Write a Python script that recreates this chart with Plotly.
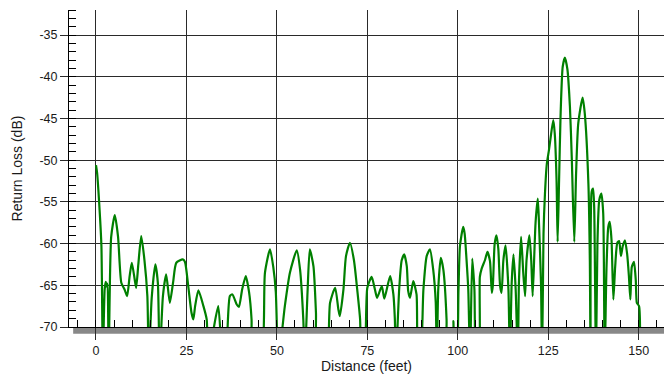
import plotly.graph_objects as go

# Distance (feet) and return loss (dB)
distance_ft = [
    0.0, 0.3, 1.0, 1.5, 1.9, 2.4, 2.7, 3.0, 3.2, 3.5, 4.2, 5.2, 6.1, 7.0, 7.9, 8.6,
    9.3, 9.9, 10.7, 11.1, 11.7, 12.5, 13.4, 14.2, 14.6, 15.4, 16.4, 17.1, 17.6, 18.5,
    19.4, 20.4, 21.3, 22.2, 24.0, 24.6, 25.5, 26.4, 26.9, 27.4, 28.3, 29.7, 30.6, 31.0,
    32.4, 33.8, 35.0, 36.1, 37.0, 37.7, 38.9, 39.5, 40.4, 41.4, 42.3, 43.0, 43.3, 45.6,
    46.7, 48.1, 49.0, 49.7, 50.4, 52.2, 53.6, 55.5, 56.4, 57.3, 57.7, 58.5, 59.1, 60.1,
    60.8, 61.2, 63.6, 64.7, 66.1, 67.0, 67.4, 68.4, 69.1, 70.2, 71.3, 72.2, 73.0, 73.3,
    74.4, 75.0, 76.2, 77.1, 77.7, 79.0, 79.7, 81.3, 82.2, 82.6, 82.9, 83.8, 84.5, 85.2,
    85.9, 86.3, 86.8, 87.7, 88.6, 89.1, 89.6, 90.5, 91.4, 92.3, 93.2, 93.9, 94.2, 94.6,
    95.3, 96.0, 96.9, 97.1, 98.6, 98.8, 99.1, 99.6, 100.2, 100.6, 101.5, 101.9, 102.4,
    102.9, 103.4, 104.0, 104.6, 105.2, 105.8, 106.1, 106.6, 107.5, 108.2, 108.9, 109.4,
    109.7, 110.2, 110.7, 111.2, 111.7, 112.1, 112.6, 113.2, 114.0, 114.4, 114.9, 115.4,
    116.0, 116.6, 116.9, 117.5, 118.1, 118.6, 119.0, 119.8, 120.3, 120.7, 121.2, 121.5,
    122.1, 122.4, 123.0, 123.3, 123.7, 124.1, 124.6, 125.2, 125.6, 126.4, 126.8, 127.3,
    127.6, 128.0, 128.4, 129.0, 129.6, 130.3, 131.0, 131.5, 132.2, 132.7, 133.3, 134.5,
    135.1, 136.1, 136.5, 136.7, 137.0, 137.4, 137.7, 138.2, 138.6, 139.1, 139.7, 140.2,
    140.6, 141.1, 141.6, 142.0, 142.5, 143.0, 143.5, 144.1, 144.6, 145.1, 145.6, 146.2,
    146.8, 147.3, 147.7, 148.1, 148.7, 149.2, 149.5, 150.1, 150.4,
]
return_loss_db = [
    -50.6, -51.5, -56.0, -60.3, -74.0, -65.5, -64.6, -65.2, -64.8, -74.0, -59.2, -56.6, -59.2, -64.7, -65.5, -66.3,
    -63.9, -62.3, -64.3, -65.3, -62.5, -59.1, -62.0, -66.3, -74.0, -66.5, -62.5, -64.7, -74.0, -66.3,
    -63.7, -67.1, -64.7, -62.3, -61.9, -62.2, -65.1, -68.3, -69.1, -67.5, -65.6, -67.5, -69.1, -74.0,
    -70.5, -67.5, -74.0, -72.0, -66.3, -66.1, -67.3, -67.6, -65.5, -63.9, -65.8, -69.1, -74.0, -74.0,
    -63.5, -60.7, -62.8, -65.8, -74.0, -67.5, -63.5, -60.8, -63.1, -69.1, -74.0, -65.5, -60.7, -62.7,
    -68.3, -74.0, -74.0, -67.1, -65.3, -67.9, -68.7, -65.5, -61.5, -59.9, -62.0, -65.5, -69.1, -74.0,
    -72.0, -65.3, -64.0, -65.5, -66.5, -65.1, -66.6, -63.9, -66.1, -69.0, -74.0, -65.5, -62.0, -61.3,
    -62.7, -65.7, -66.5, -64.5, -66.1, -74.0, -74.0, -65.5, -61.5, -60.7, -63.1, -67.0, -74.0, -65.5,
    -61.7, -63.1, -69.1, -74.0, -74.0, -69.3, -74.0, -74.0, -65.5, -60.3, -58.0, -58.8, -61.8,
    -65.5, -74.0, -61.8, -65.5, -74.0, -74.0, -64.0, -63.0, -62.0, -61.0, -62.1, -65.9,
    -65.0, -60.0, -59.0, -60.6, -65.1, -65.9, -62.0, -60.2, -65.5, -74.0, -64.7, -61.3,
    -65.5, -74.0, -64.7, -59.2, -63.5, -66.3, -62.0, -59.0, -62.0, -66.3, -60.7, -57.5,
    -54.6, -57.0, -64.7, -74.0, -58.8, -54.0, -50.5, -48.8, -47.5, -45.2, -46.8, -52.4,
    -59.8, -52.4, -44.8, -38.8, -37.7, -39.1, -43.6, -49.6, -59.8, -51.6, -45.6, -42.5,
    -44.4, -52.8, -62.0, -74.0, -53.8, -53.4, -55.6, -74.0, -60.0, -54.8, -54.0, -56.4,
    -74.0, -63.0, -58.0, -57.4, -59.6, -66.7, -62.8, -59.9, -59.7, -61.5, -60.3, -59.6,
    -61.2, -63.9, -66.7, -62.8, -62.2, -64.4, -67.1, -67.5, -74.0,
]

x_ticks = [0, 25, 50, 75, 100, 125, 150]
y_ticks = [-70, -65, -60, -55, -50, -45, -40, -35]

FONT = "Liberation Sans, Arial, sans-serif"
GRID = "#2a2a2a"

fig = go.Figure()
fig.add_trace(go.Scatter(
    x=distance_ft, y=return_loss_db, mode="lines",
    line=dict(color="#008000", width=2.2, shape="spline", smoothing=0.6),
    hoverinfo="skip", showlegend=False,
))

# grey shadow bar under the x axis
fig.add_shape(type="rect", xref="paper", yref="paper",
              x0=0.007, x1=1.0, y0=-0.021, y1=0.0,
              fillcolor="#888888", line=dict(width=0), layer="below")

fig.update_layout(
    width=664, height=376,
    margin=dict(l=69, r=0, t=10, b=49),
    paper_bgcolor="white", plot_bgcolor="white",
    font=dict(family=FONT, size=12.5, color="#1a1a1a"),
    showlegend=False,
)
fig.update_xaxes(
    range=[-7.46, 157.0], tickvals=x_ticks, ticktext=[str(v) for v in x_ticks],
    showgrid=True, gridcolor=GRID, gridwidth=1,
    showline=True, linecolor="black", linewidth=1,
    ticks="outside", ticklen=12, tickcolor=GRID, tickwidth=1,
    ticklabelstandoff=0,
    minor=dict(dtick=5, tick0=0, ticks="inside", ticklen=7, tickcolor="black", showgrid=False),
    zeroline=False,
    title=dict(text="Distance (feet)", font=dict(size=14, family=FONT, color="#1a1a1a"), standoff=3),
)
fig.update_yaxes(
    range=[-70, -32], tickvals=y_ticks, ticktext=[str(v) for v in y_ticks],
    showgrid=True, gridcolor=GRID, gridwidth=1,
    showline=True, linecolor="black", linewidth=1,
    ticks="outside", ticklen=8, tickcolor=GRID, tickwidth=1,
    minor=dict(dtick=1, tick0=-70, ticks="inside", ticklen=7, tickcolor="black", showgrid=False),
    zeroline=False,
    title=dict(text="Return Loss (dB)", font=dict(size=14, family=FONT, color="#1a1a1a"), standoff=13),
)

fig.write_html("out.html")
